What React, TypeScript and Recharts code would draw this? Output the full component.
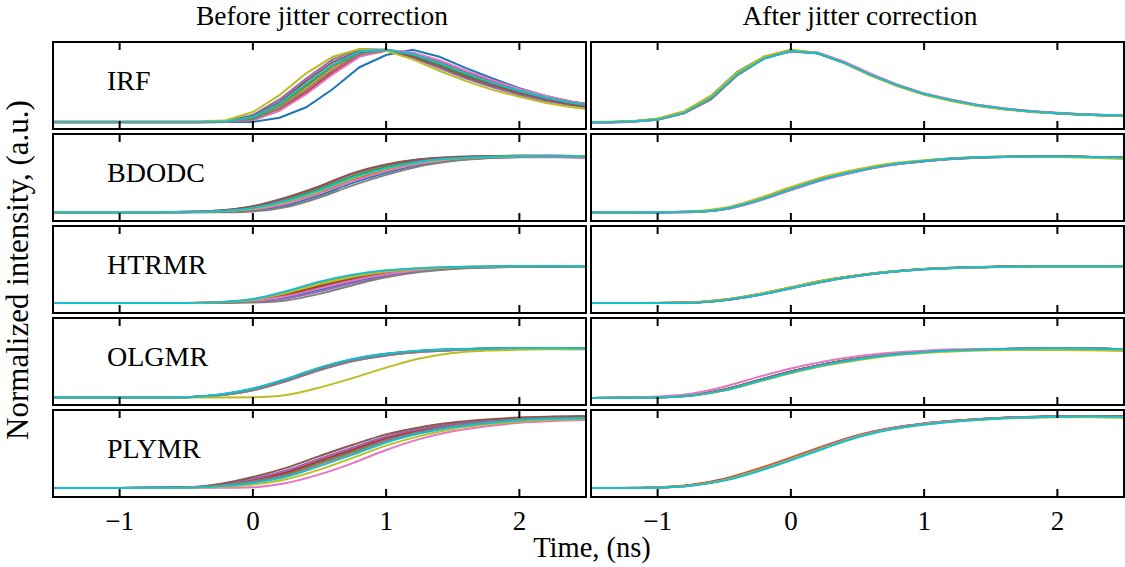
import React from 'react'
import { LineChart, Line, XAxis, YAxis } from 'recharts'

// tab10 order: blue, orange, green, red, purple, brown, pink, gray, olive, cyan
const colors = ['#1f77b4', '#ff7f0e', '#2ca02c', '#d62728', '#9467bd', '#8c564b', '#e377c2', '#7f7f7f', '#bcbd22', '#17becf']

const panelNames = ['IRF', 'BDODC', 'HTRMR', 'OLGMR', 'PLYMR']
const columnTitles = ['Before jitter correction', 'After jitter correction']
const timeTicks = [-1, 0, 1, 2]

// IRF traces are sampled every 0.2 ns
const irfTimes = [-1.6, -1.4, -1.2, -1.0, -0.8, -0.6, -0.4, -0.2, 0, 0.2, 0.4, 0.6, 0.8, 1.0, 1.2, 1.4, 1.6, 1.8, 2.0, 2.2, 2.4, 2.6]
// rise curves, every 0.25 ns
const riseTimes = [-1.5, -1.25, -1.0, -0.75, -0.5, -0.25, 0, 0.25, 0.5, 0.75, 1.0, 1.25, 1.5, 1.75, 2.0, 2.25, 2.5]

const irfBefore = [
  [0.08, 0.08, 0.08, 0.08, 0.08, 0.08, 0.08, 0.08, 0.08, 0.13, 0.25, 0.46, 0.71, 0.85, 0.91, 0.83, 0.70, 0.58, 0.47, 0.38, 0.31, 0.27],
  [0.08, 0.08, 0.08, 0.08, 0.08, 0.08, 0.08, 0.085, 0.12, 0.26, 0.48, 0.71, 0.87, 0.91, 0.86, 0.77, 0.65, 0.54, 0.45, 0.37, 0.30, 0.26],
  [0.08, 0.08, 0.08, 0.08, 0.08, 0.08, 0.08, 0.085, 0.13, 0.28, 0.50, 0.73, 0.88, 0.91, 0.85, 0.74, 0.62, 0.52, 0.43, 0.35, 0.29, 0.25],
  [0.075, 0.075, 0.075, 0.075, 0.075, 0.075, 0.075, 0.08, 0.10, 0.22, 0.42, 0.65, 0.84, 0.90, 0.87, 0.78, 0.66, 0.55, 0.45, 0.37, 0.31, 0.27],
  [0.08, 0.08, 0.08, 0.08, 0.08, 0.08, 0.08, 0.09, 0.16, 0.34, 0.58, 0.80, 0.92, 0.91, 0.82, 0.70, 0.58, 0.48, 0.39, 0.32, 0.27, 0.23],
  [0.08, 0.08, 0.08, 0.08, 0.08, 0.08, 0.08, 0.09, 0.15, 0.31, 0.55, 0.77, 0.90, 0.91, 0.83, 0.72, 0.60, 0.50, 0.41, 0.34, 0.28, 0.24],
  [0.085, 0.085, 0.085, 0.085, 0.085, 0.085, 0.085, 0.085, 0.10, 0.21, 0.40, 0.63, 0.83, 0.91, 0.88, 0.79, 0.67, 0.56, 0.46, 0.38, 0.31, 0.27],
  [0.08, 0.08, 0.08, 0.08, 0.08, 0.08, 0.08, 0.085, 0.11, 0.24, 0.45, 0.68, 0.86, 0.91, 0.86, 0.76, 0.64, 0.53, 0.44, 0.36, 0.30, 0.26],
  [0.085, 0.085, 0.085, 0.085, 0.085, 0.085, 0.085, 0.10, 0.195, 0.39, 0.64, 0.83, 0.92, 0.90, 0.80, 0.67, 0.55, 0.45, 0.37, 0.30, 0.25, 0.21],
  [0.08, 0.08, 0.08, 0.08, 0.08, 0.08, 0.08, 0.085, 0.14, 0.29, 0.52, 0.74, 0.89, 0.91, 0.86, 0.76, 0.64, 0.53, 0.44, 0.36, 0.30, 0.26],
]

const irfAfter = [
  [0.075, 0.078, 0.086, 0.115, 0.20, 0.38, 0.66, 0.83, 0.905, 0.87, 0.76, 0.62, 0.50, 0.40, 0.33, 0.27, 0.23, 0.20, 0.18, 0.165, 0.155, 0.145],
  [0.075, 0.078, 0.085, 0.11, 0.19, 0.36, 0.63, 0.82, 0.90, 0.875, 0.765, 0.625, 0.505, 0.405, 0.335, 0.275, 0.235, 0.205, 0.185, 0.17, 0.158, 0.148],
  [0.075, 0.078, 0.085, 0.112, 0.192, 0.365, 0.645, 0.825, 0.90, 0.87, 0.76, 0.62, 0.50, 0.40, 0.33, 0.27, 0.23, 0.20, 0.18, 0.165, 0.155, 0.145],
  [0.072, 0.075, 0.082, 0.105, 0.18, 0.34, 0.62, 0.81, 0.895, 0.872, 0.762, 0.622, 0.502, 0.402, 0.332, 0.272, 0.232, 0.202, 0.182, 0.167, 0.157, 0.147],
  [0.075, 0.078, 0.085, 0.11, 0.188, 0.355, 0.635, 0.815, 0.90, 0.88, 0.77, 0.63, 0.505, 0.405, 0.335, 0.275, 0.235, 0.205, 0.183, 0.168, 0.157, 0.147],
  [0.074, 0.077, 0.084, 0.108, 0.185, 0.35, 0.63, 0.815, 0.895, 0.87, 0.76, 0.62, 0.50, 0.40, 0.33, 0.27, 0.23, 0.20, 0.18, 0.165, 0.155, 0.145],
  [0.068, 0.07, 0.08, 0.105, 0.185, 0.355, 0.64, 0.83, 0.885, 0.88, 0.775, 0.635, 0.51, 0.41, 0.338, 0.278, 0.238, 0.207, 0.186, 0.17, 0.16, 0.15],
  [0.075, 0.078, 0.085, 0.11, 0.19, 0.36, 0.64, 0.82, 0.90, 0.87, 0.76, 0.62, 0.50, 0.40, 0.33, 0.27, 0.23, 0.20, 0.18, 0.165, 0.155, 0.145],
  [0.078, 0.082, 0.09, 0.12, 0.205, 0.38, 0.655, 0.835, 0.915, 0.875, 0.755, 0.612, 0.49, 0.392, 0.322, 0.265, 0.225, 0.196, 0.177, 0.163, 0.153, 0.143],
  [0.075, 0.078, 0.085, 0.108, 0.185, 0.35, 0.625, 0.81, 0.895, 0.872, 0.762, 0.622, 0.502, 0.402, 0.332, 0.272, 0.232, 0.202, 0.182, 0.167, 0.157, 0.147],
]

const bdodcBefore = [
  [0.10, 0.10, 0.10, 0.10, 0.101, 0.104, 0.122, 0.182, 0.296, 0.438, 0.554, 0.646, 0.696, 0.724, 0.738, 0.742, 0.738],
  [0.10, 0.10, 0.10, 0.10, 0.105, 0.118, 0.164, 0.259, 0.387, 0.536, 0.638, 0.702, 0.731, 0.743, 0.749, 0.75, 0.748],
  [0.10, 0.10, 0.10, 0.10, 0.104, 0.115, 0.155, 0.243, 0.368, 0.515, 0.62, 0.69, 0.724, 0.739, 0.746, 0.748, 0.742],
  [0.10, 0.10, 0.10, 0.10, 0.102, 0.109, 0.137, 0.21, 0.329, 0.473, 0.584, 0.666, 0.709, 0.731, 0.742, 0.745, 0.74],
  [0.10, 0.10, 0.10, 0.10, 0.105, 0.12, 0.167, 0.265, 0.393, 0.543, 0.644, 0.706, 0.733, 0.744, 0.749, 0.75, 0.745],
  [0.10, 0.10, 0.10, 0.10, 0.105, 0.12, 0.17, 0.27, 0.40, 0.55, 0.65, 0.71, 0.735, 0.745, 0.75, 0.75, 0.745],
  [0.10, 0.10, 0.10, 0.10, 0.102, 0.107, 0.131, 0.199, 0.316, 0.459, 0.572, 0.658, 0.703, 0.724, 0.732, 0.732, 0.722],
  [0.10, 0.10, 0.10, 0.10, 0.10, 0.10, 0.11, 0.16, 0.27, 0.41, 0.53, 0.63, 0.69, 0.72, 0.735, 0.74, 0.735],
  [0.10, 0.10, 0.10, 0.10, 0.103, 0.111, 0.143, 0.221, 0.342, 0.487, 0.596, 0.674, 0.715, 0.734, 0.743, 0.746, 0.74],
  [0.10, 0.10, 0.10, 0.10, 0.103, 0.113, 0.149, 0.232, 0.355, 0.501, 0.608, 0.682, 0.72, 0.736, 0.745, 0.747, 0.742],
]

const bdodcAfter = [
  [0.10, 0.10, 0.10, 0.104, 0.135, 0.232, 0.36, 0.48, 0.572, 0.645, 0.688, 0.718, 0.734, 0.74, 0.74, 0.736, 0.728],
  [0.10, 0.10, 0.10, 0.105, 0.14, 0.24, 0.37, 0.492, 0.583, 0.653, 0.694, 0.723, 0.738, 0.743, 0.743, 0.738, 0.73],
  [0.10, 0.10, 0.10, 0.106, 0.142, 0.243, 0.373, 0.493, 0.582, 0.651, 0.691, 0.72, 0.735, 0.74, 0.74, 0.735, 0.726],
  [0.10, 0.10, 0.10, 0.105, 0.138, 0.237, 0.366, 0.487, 0.578, 0.649, 0.69, 0.72, 0.736, 0.742, 0.742, 0.737, 0.728],
  [0.10, 0.10, 0.10, 0.104, 0.134, 0.23, 0.357, 0.478, 0.57, 0.643, 0.686, 0.717, 0.733, 0.739, 0.74, 0.735, 0.727],
  [0.10, 0.10, 0.10, 0.105, 0.14, 0.24, 0.37, 0.49, 0.58, 0.65, 0.69, 0.72, 0.735, 0.74, 0.74, 0.735, 0.725],
  [0.098, 0.098, 0.098, 0.102, 0.132, 0.228, 0.355, 0.477, 0.57, 0.643, 0.686, 0.716, 0.732, 0.738, 0.738, 0.733, 0.723],
  [0.10, 0.10, 0.10, 0.105, 0.139, 0.238, 0.368, 0.488, 0.579, 0.649, 0.689, 0.719, 0.734, 0.739, 0.739, 0.734, 0.725],
  [0.102, 0.102, 0.103, 0.11, 0.152, 0.258, 0.39, 0.51, 0.596, 0.662, 0.698, 0.724, 0.736, 0.738, 0.735, 0.727, 0.712],
  [0.10, 0.10, 0.10, 0.105, 0.138, 0.236, 0.365, 0.486, 0.577, 0.648, 0.689, 0.72, 0.735, 0.741, 0.741, 0.737, 0.728],
]

const htrmrBefore = [
  [0.115, 0.115, 0.115, 0.115, 0.115, 0.119, 0.134, 0.182, 0.269, 0.362, 0.438, 0.486, 0.514, 0.526, 0.534, 0.536, 0.532],
  [0.115, 0.115, 0.115, 0.115, 0.116, 0.125, 0.158, 0.245, 0.353, 0.434, 0.486, 0.513, 0.529, 0.534, 0.54, 0.54, 0.538],
  [0.115, 0.115, 0.115, 0.115, 0.116, 0.122, 0.148, 0.219, 0.318, 0.404, 0.466, 0.502, 0.523, 0.531, 0.537, 0.538, 0.535],
  [0.115, 0.115, 0.115, 0.115, 0.115, 0.121, 0.144, 0.208, 0.304, 0.392, 0.458, 0.497, 0.52, 0.529, 0.536, 0.538, 0.537],
  [0.115, 0.115, 0.115, 0.115, 0.115, 0.117, 0.128, 0.166, 0.248, 0.344, 0.426, 0.479, 0.51, 0.524, 0.533, 0.535, 0.531],
  [0.115, 0.115, 0.115, 0.115, 0.115, 0.12, 0.14, 0.198, 0.29, 0.38, 0.45, 0.493, 0.518, 0.528, 0.535, 0.537, 0.534],
  [0.115, 0.115, 0.115, 0.115, 0.115, 0.12, 0.138, 0.192, 0.283, 0.374, 0.446, 0.49, 0.516, 0.528, 0.535, 0.536, 0.532],
  [0.115, 0.115, 0.115, 0.115, 0.115, 0.115, 0.12, 0.145, 0.22, 0.32, 0.41, 0.47, 0.505, 0.522, 0.53, 0.533, 0.53],
  [0.115, 0.115, 0.115, 0.115, 0.116, 0.123, 0.152, 0.229, 0.332, 0.416, 0.474, 0.506, 0.525, 0.532, 0.538, 0.539, 0.535],
  [0.115, 0.115, 0.115, 0.115, 0.116, 0.125, 0.16, 0.25, 0.36, 0.44, 0.49, 0.515, 0.53, 0.535, 0.54, 0.54, 0.535],
]

const htrmrAfter = [
  [0.115, 0.115, 0.115, 0.119, 0.147, 0.205, 0.283, 0.363, 0.425, 0.472, 0.503, 0.519, 0.53, 0.535, 0.537, 0.537, 0.535],
  [0.115, 0.115, 0.116, 0.122, 0.154, 0.216, 0.296, 0.376, 0.435, 0.478, 0.507, 0.522, 0.532, 0.537, 0.539, 0.539, 0.537],
  [0.115, 0.115, 0.116, 0.121, 0.152, 0.213, 0.293, 0.373, 0.432, 0.476, 0.505, 0.52, 0.53, 0.535, 0.537, 0.537, 0.535],
  [0.115, 0.115, 0.115, 0.12, 0.15, 0.21, 0.29, 0.37, 0.43, 0.475, 0.505, 0.521, 0.531, 0.536, 0.538, 0.538, 0.536],
  [0.115, 0.115, 0.115, 0.119, 0.146, 0.204, 0.282, 0.362, 0.424, 0.471, 0.502, 0.518, 0.529, 0.534, 0.536, 0.536, 0.534],
  [0.115, 0.115, 0.115, 0.12, 0.151, 0.212, 0.292, 0.372, 0.431, 0.475, 0.505, 0.52, 0.53, 0.535, 0.537, 0.537, 0.535],
  [0.115, 0.115, 0.115, 0.12, 0.149, 0.208, 0.287, 0.367, 0.428, 0.474, 0.504, 0.52, 0.53, 0.535, 0.537, 0.537, 0.535],
  [0.115, 0.115, 0.115, 0.12, 0.15, 0.21, 0.29, 0.37, 0.43, 0.475, 0.505, 0.52, 0.53, 0.535, 0.537, 0.537, 0.534],
  [0.116, 0.116, 0.117, 0.123, 0.155, 0.217, 0.297, 0.376, 0.434, 0.476, 0.504, 0.518, 0.527, 0.531, 0.532, 0.531, 0.528],
  [0.115, 0.115, 0.115, 0.119, 0.148, 0.207, 0.285, 0.365, 0.427, 0.473, 0.503, 0.519, 0.529, 0.534, 0.536, 0.536, 0.534],
]

const olgmrBefore = [
  [0.085, 0.085, 0.085, 0.086, 0.09, 0.119, 0.188, 0.297, 0.427, 0.527, 0.588, 0.623, 0.639, 0.649, 0.655, 0.655, 0.65],
  [0.085, 0.085, 0.085, 0.086, 0.089, 0.115, 0.178, 0.285, 0.413, 0.515, 0.578, 0.616, 0.635, 0.646, 0.653, 0.654, 0.649],
  [0.085, 0.085, 0.085, 0.086, 0.09, 0.117, 0.183, 0.291, 0.42, 0.521, 0.583, 0.62, 0.637, 0.648, 0.654, 0.654, 0.65],
  [0.085, 0.085, 0.085, 0.086, 0.089, 0.114, 0.175, 0.282, 0.409, 0.512, 0.575, 0.614, 0.633, 0.645, 0.652, 0.653, 0.649],
  [0.085, 0.085, 0.085, 0.086, 0.09, 0.116, 0.18, 0.288, 0.416, 0.518, 0.58, 0.618, 0.636, 0.647, 0.653, 0.654, 0.649],
  [0.085, 0.085, 0.085, 0.086, 0.089, 0.113, 0.173, 0.279, 0.406, 0.509, 0.573, 0.612, 0.632, 0.644, 0.652, 0.653, 0.649],
  [0.085, 0.085, 0.085, 0.086, 0.089, 0.111, 0.168, 0.273, 0.399, 0.503, 0.568, 0.608, 0.629, 0.641, 0.645, 0.645, 0.64],
  [0.085, 0.085, 0.085, 0.086, 0.089, 0.112, 0.17, 0.276, 0.402, 0.506, 0.57, 0.61, 0.631, 0.643, 0.651, 0.652, 0.648],
  [0.085, 0.085, 0.085, 0.085, 0.085, 0.085, 0.088, 0.115, 0.20, 0.31, 0.43, 0.535, 0.598, 0.625, 0.635, 0.64, 0.64],
  [0.085, 0.085, 0.085, 0.086, 0.09, 0.12, 0.19, 0.30, 0.43, 0.53, 0.59, 0.625, 0.64, 0.65, 0.655, 0.655, 0.65],
]

const olgmrAfter = [
  [0.08, 0.082, 0.088, 0.11, 0.172, 0.275, 0.378, 0.463, 0.53, 0.577, 0.608, 0.629, 0.64, 0.648, 0.652, 0.648, 0.64],
  [0.08, 0.083, 0.09, 0.113, 0.178, 0.283, 0.386, 0.47, 0.535, 0.58, 0.61, 0.63, 0.64, 0.648, 0.652, 0.648, 0.64],
  [0.08, 0.082, 0.089, 0.112, 0.177, 0.282, 0.385, 0.47, 0.535, 0.58, 0.61, 0.631, 0.641, 0.649, 0.653, 0.649, 0.641],
  [0.08, 0.082, 0.088, 0.11, 0.174, 0.279, 0.383, 0.468, 0.534, 0.579, 0.61, 0.63, 0.641, 0.649, 0.653, 0.649, 0.641],
  [0.08, 0.082, 0.088, 0.111, 0.176, 0.281, 0.384, 0.469, 0.534, 0.579, 0.609, 0.629, 0.64, 0.648, 0.652, 0.648, 0.64],
  [0.08, 0.082, 0.088, 0.11, 0.175, 0.28, 0.385, 0.47, 0.535, 0.58, 0.61, 0.63, 0.64, 0.648, 0.652, 0.648, 0.64],
  [0.08, 0.085, 0.097, 0.13, 0.21, 0.32, 0.42, 0.50, 0.56, 0.60, 0.625, 0.64, 0.645, 0.65, 0.652, 0.648, 0.64],
  [0.08, 0.082, 0.088, 0.11, 0.173, 0.277, 0.381, 0.466, 0.532, 0.578, 0.609, 0.63, 0.641, 0.649, 0.653, 0.65, 0.643],
  [0.08, 0.082, 0.086, 0.105, 0.165, 0.265, 0.365, 0.45, 0.515, 0.565, 0.598, 0.618, 0.628, 0.632, 0.632, 0.628, 0.62],
  [0.08, 0.081, 0.086, 0.107, 0.168, 0.27, 0.373, 0.46, 0.527, 0.575, 0.607, 0.628, 0.64, 0.648, 0.652, 0.649, 0.642],
]

const plymrBefore = [
  [0.104, 0.104, 0.104, 0.105, 0.108, 0.134, 0.187, 0.263, 0.397, 0.527, 0.661, 0.755, 0.822, 0.864, 0.894, 0.907, 0.914],
  [0.104, 0.104, 0.104, 0.105, 0.107, 0.129, 0.174, 0.243, 0.376, 0.506, 0.644, 0.742, 0.811, 0.856, 0.888, 0.903, 0.91],
  [0.104, 0.104, 0.104, 0.105, 0.108, 0.136, 0.193, 0.274, 0.407, 0.537, 0.669, 0.761, 0.827, 0.868, 0.897, 0.91, 0.917],
  [0.104, 0.104, 0.104, 0.105, 0.108, 0.139, 0.199, 0.284, 0.418, 0.548, 0.678, 0.768, 0.831, 0.871, 0.9, 0.912, 0.919],
  [0.104, 0.104, 0.104, 0.105, 0.109, 0.143, 0.211, 0.304, 0.439, 0.569, 0.695, 0.78, 0.841, 0.879, 0.906, 0.917, 0.923],
  [0.104, 0.104, 0.104, 0.105, 0.11, 0.15, 0.23, 0.335, 0.47, 0.60, 0.72, 0.80, 0.855, 0.89, 0.915, 0.925, 0.93],
  [0.104, 0.104, 0.104, 0.104, 0.104, 0.105, 0.112, 0.16, 0.26, 0.39, 0.54, 0.665, 0.755, 0.812, 0.853, 0.874, 0.885],
  [0.104, 0.104, 0.104, 0.105, 0.108, 0.132, 0.18, 0.253, 0.386, 0.516, 0.652, 0.748, 0.817, 0.86, 0.891, 0.905, 0.912],
  [0.104, 0.104, 0.104, 0.104, 0.106, 0.117, 0.145, 0.205, 0.315, 0.45, 0.59, 0.70, 0.782, 0.833, 0.869, 0.888, 0.896],
  [0.104, 0.104, 0.104, 0.105, 0.107, 0.125, 0.162, 0.232, 0.355, 0.487, 0.627, 0.729, 0.802, 0.849, 0.882, 0.898, 0.905],
]

const plymrAfter = [
  [0.104, 0.104, 0.11, 0.135, 0.20, 0.31, 0.44, 0.575, 0.70, 0.785, 0.84, 0.875, 0.90, 0.915, 0.925, 0.925, 0.92],
  [0.104, 0.105, 0.112, 0.14, 0.21, 0.325, 0.455, 0.59, 0.71, 0.792, 0.846, 0.88, 0.904, 0.918, 0.927, 0.928, 0.925],
  [0.104, 0.104, 0.11, 0.134, 0.198, 0.307, 0.437, 0.572, 0.698, 0.784, 0.84, 0.876, 0.901, 0.916, 0.926, 0.926, 0.921],
  [0.104, 0.104, 0.11, 0.136, 0.203, 0.315, 0.445, 0.58, 0.703, 0.788, 0.843, 0.878, 0.903, 0.919, 0.929, 0.931, 0.929],
  [0.104, 0.104, 0.11, 0.136, 0.203, 0.315, 0.447, 0.582, 0.706, 0.79, 0.845, 0.879, 0.903, 0.917, 0.926, 0.926, 0.921],
  [0.104, 0.104, 0.11, 0.135, 0.201, 0.312, 0.442, 0.577, 0.701, 0.786, 0.841, 0.876, 0.901, 0.916, 0.926, 0.927, 0.923],
  [0.104, 0.104, 0.109, 0.133, 0.197, 0.306, 0.437, 0.573, 0.699, 0.786, 0.842, 0.877, 0.901, 0.915, 0.924, 0.924, 0.918],
  [0.104, 0.104, 0.109, 0.132, 0.195, 0.303, 0.433, 0.568, 0.695, 0.782, 0.838, 0.874, 0.899, 0.914, 0.924, 0.924, 0.919],
  [0.104, 0.104, 0.109, 0.132, 0.194, 0.302, 0.432, 0.566, 0.692, 0.778, 0.834, 0.87, 0.895, 0.91, 0.918, 0.917, 0.91],
  [0.103, 0.103, 0.107, 0.128, 0.188, 0.294, 0.423, 0.558, 0.686, 0.775, 0.833, 0.87, 0.897, 0.913, 0.923, 0.924, 0.919],
]

const FONT = '"Liberation Serif", "DejaVu Serif", serif'
const PANEL_W = 533
const PANEL_H = 87
const COL_LEFT = [53, 591]
const ROW_TOP = [42, 134, 226, 318, 410]
const LABEL_H = 40
const TICK_LEN = 8
// axes of height 0 are not drawn, so the tick-only axes get one pixel
const AXIS_PX = 1

function toRows(times: number[], series: number[][]) {
  return times.map((t, i) => {
    const row: Record<string, number> = { t }
    series.forEach((s, k) => {
      row['s' + k] = s[i]
    })
    return row
  })
}

const fmtTick = (v: number) => (v < 0 ? '\u2212' + Math.abs(v) : String(v))

// inward tick on the lower spine, label (bottom row only) below it
function BottomTick(props: any) {
  const { x, y, payload, showLabel } = props
  return (
    <g>
      <path d={`M${x},${y} L${x},${y - TICK_LEN}`} stroke="#000" strokeWidth={2} fill="none" />
      {showLabel && (
        <text x={x} y={y + 33} textAnchor="middle" fontSize={27} fontFamily={FONT} fill="#000">
          {fmtTick(payload.value)}
        </text>
      )}
    </g>
  )
}

// inward tick on the upper spine
function TopTick(props: any) {
  const { x, y } = props
  return <path d={`M${x},${y} L${x},${y + TICK_LEN}`} stroke="#000" strokeWidth={2} fill="none" />
}

function Panel({ left, top, times, series, curve, label, showLabels }: any) {
  const rows = toRows(times, series)
  const bottomH = showLabels ? LABEL_H : AXIS_PX
  const chartH = AXIS_PX + PANEL_H + bottomH
  return (
    <div style={{ position: 'absolute', left, top: top - AXIS_PX, width: PANEL_W, height: chartH }}>
      <LineChart width={PANEL_W} height={chartH} data={rows} margin={{ top: 0, right: 0, bottom: 0, left: 0 }}>
        <XAxis
          xAxisId="b"
          dataKey="t"
          type="number"
          domain={[-1.5, 2.5]}
          ticks={timeTicks}
          allowDataOverflow
          height={bottomH}
          axisLine={false}
          tickLine={false}
          tickSize={0}
          tickMargin={0}
          interval={0}
          tick={(p: any) => <BottomTick {...p} showLabel={showLabels} />}
        />
        <XAxis
          xAxisId="t"
          orientation="top"
          dataKey="t"
          type="number"
          domain={[-1.5, 2.5]}
          ticks={timeTicks}
          allowDataOverflow
          height={AXIS_PX}
          axisLine={false}
          tickLine={false}
          tickSize={0}
          tickMargin={0}
          interval={0}
          tick={(p: any) => <TopTick {...p} />}
        />
        <YAxis hide type="number" domain={[0, 1]} allowDataOverflow />
        {series.map((_: number[], k: number) => (
          <Line
            key={k}
            xAxisId="b"
            dataKey={'s' + k}
            type={curve}
            stroke={colors[k]}
            strokeWidth={2}
            dot={false}
            isAnimationActive={false}
          />
        ))}
      </LineChart>
      <svg
        width={PANEL_W + 4}
        height={PANEL_H + 4}
        style={{ position: 'absolute', left: -2, top: AXIS_PX - 2, pointerEvents: 'none' }}
      >
        <rect x={2} y={2} width={PANEL_W} height={PANEL_H} fill="none" stroke="#000" strokeWidth={2} />
        {label && (
          <text x={56} y={49.5} fontSize={28} fontFamily={FONT} fill="#000">
            {label}
          </text>
        )}
      </svg>
    </div>
  )
}

const beforeSets = [irfBefore, bdodcBefore, htrmrBefore, olgmrBefore, plymrBefore]
const afterSets = [irfAfter, bdodcAfter, htrmrAfter, olgmrAfter, plymrAfter]

export default function App() {
  return (
    <div style={{ position: 'absolute', left: 0, top: 0, width: 1125, height: 567, background: '#fff', overflow: 'hidden' }}>
      <svg width={1125} height={567} style={{ position: 'absolute', left: 0, top: 0 }}>
        <text x={322} y={25} textAnchor="middle" fontSize={27.5} fontFamily={FONT}>{columnTitles[0]}</text>
        <text x={860} y={25} textAnchor="middle" fontSize={27.5} fontFamily={FONT}>{columnTitles[1]}</text>
        <text x={592} y={557} textAnchor="middle" fontSize={28.5} fontFamily={FONT}>Time, (ns)</text>
        <text x={28} y={270} textAnchor="middle" fontSize={31} fontFamily={FONT} transform="rotate(-90 28 270)">
          Normalized intensity, (a.u.)
        </text>
      </svg>
      {panelNames.map((name, r) => (
        <React.Fragment key={name}>
          <Panel
            left={COL_LEFT[0]}
            top={ROW_TOP[r]}
            times={r === 0 ? irfTimes : riseTimes}
            series={beforeSets[r]}
            curve={r === 0 ? 'linear' : 'monotone'}
            label={name}
            showLabels={r === panelNames.length - 1}
          />
          <Panel
            left={COL_LEFT[1]}
            top={ROW_TOP[r]}
            times={r === 0 ? irfTimes : riseTimes}
            series={afterSets[r]}
            curve={r === 0 ? 'linear' : 'monotone'}
            label={null}
            showLabels={r === panelNames.length - 1}
          />
        </React.Fragment>
      ))}
    </div>
  )
}
